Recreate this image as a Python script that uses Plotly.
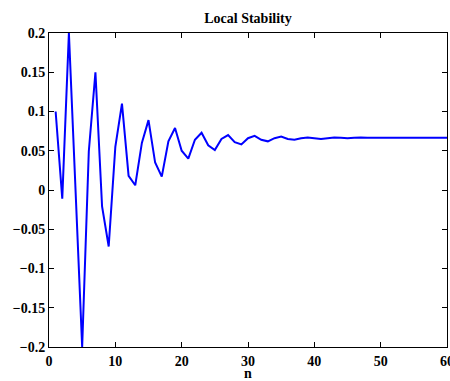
import plotly.graph_objects as go

n_values = list(range(1, 61))
stability = [
    0.100, -0.011, 0.200, 0.000, -0.200, 0.049, 0.150, -0.021, -0.072, 0.055,
    0.110, 0.018, 0.006, 0.060, 0.089, 0.035, 0.017, 0.062, 0.079, 0.050,
    0.040, 0.064, 0.073, 0.057, 0.051, 0.065, 0.070, 0.061, 0.058, 0.066,
    0.069, 0.064, 0.062, 0.066, 0.068, 0.065, 0.064, 0.066, 0.067, 0.066,
    0.065, 0.066, 0.067, 0.0665, 0.066, 0.0665, 0.067, 0.0665, 0.0665, 0.0667,
    0.0667, 0.0666, 0.0667, 0.0667, 0.0667, 0.0667, 0.0667, 0.0667, 0.0667, 0.0667,
]

x_ticks = [0, 10, 20, 30, 40, 50, 60]
y_ticks = [-0.2, -0.15, -0.1, -0.05, 0, 0.05, 0.1, 0.15, 0.2]
y_tick_labels = ["\u22120.2", "\u22120.15", "\u22120.1", "\u22120.05", "0",
                 "0.05", "0.1", "0.15", "0.2"]

font_family = "Liberation Serif"

fig = go.Figure()
fig.add_trace(go.Scatter(
    x=n_values, y=stability, mode="lines",
    line=dict(color="#0000ff", width=2),
    showlegend=False,
))

axis_common = dict(
    showline=True, linecolor="black", linewidth=1, mirror="ticks",
    ticks="inside", ticklen=5, tickcolor="black", tickwidth=1,
    showgrid=False, zeroline=False, automargin=False,
    ticklabeloverflow="allow",
    tickfont=dict(family=font_family, size=14, color="black", weight="bold"),
)

fig.update_layout(
    width=450, height=381,
    margin=dict(l=49, r=3, t=33, b=34),
    paper_bgcolor="white", plot_bgcolor="white",
    title=dict(
        text="Local Stability",
        x=(49 + 447) / 2 / 450, xref="container", xanchor="center",
        y=1 - 18 / 381, yref="container", yanchor="middle",
        font=dict(family=font_family, size=14, color="black", weight="bold"),
    ),
    xaxis=dict(
        range=[0, 60], tickvals=x_ticks, ticktext=[str(v) for v in x_ticks],
        ticklabelstandoff=1,
        title=dict(text="n", standoff=2,
                   font=dict(family=font_family, size=14, color="black", weight="bold")),
        **axis_common,
    ),
    yaxis=dict(
        range=[-0.2, 0.2], tickvals=y_ticks, ticktext=y_tick_labels,
        **axis_common,
    ),
)

fig.write_html(
    "out.html",
    config={"displayModeBar": False},
    post_script="document.body.style.margin='0';document.body.style.overflow='hidden';",
)
